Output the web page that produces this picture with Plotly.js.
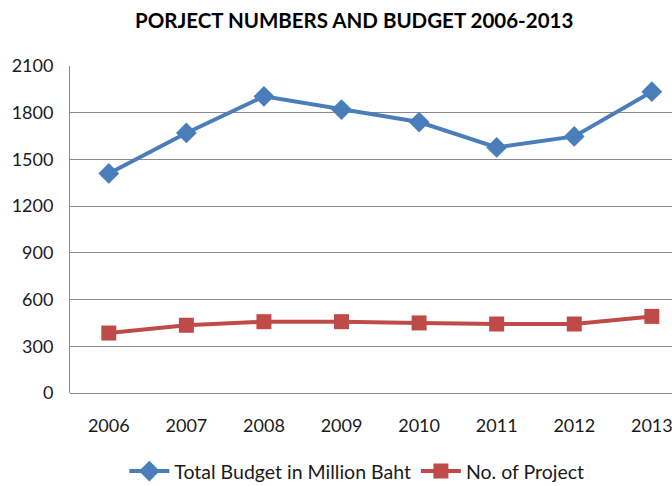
<!DOCTYPE html>
<html>
<head>
<meta charset="utf-8">
<script src="https://cdn.plot.ly/plotly-3.0.1.min.js"></script>
<style>html,body{margin:0;padding:0;background:#fff;}#chart{width:672px;height:486px;}</style>
</head>
<body>
<div id="chart"></div>
<script>
const years = ["2006","2007","2008","2009","2010","2011","2012","2013"];
const totalBudget = [1410, 1670, 1905, 1820, 1740, 1577, 1648, 1935];
const numProjects = [385, 435, 458, 458, 450, 443, 443, 492];
const yTicks = [0, 300, 600, 900, 1200, 1500, 1800, 2100];

const font = "Lato, 'Open Sans', sans-serif";

const traces = [
  {
    x: years, y: totalBudget, name: "Total Budget in Million Baht",
    type: "scatter", mode: "lines+markers",
    line: {color: "#4a7ebb", width: 4},
    marker: {symbol: "diamond", size: 16, color: "#4a7ebb"}
  },
  {
    x: years, y: numProjects, name: "No. of Project",
    type: "scatter", mode: "lines+markers",
    line: {color: "#be4b48", width: 4},
    marker: {symbol: "square", size: 15, color: "#be4b48"}
  }
];

const layout = {
  width: 672, height: 486,
  margin: {l: 70, r: 0, t: 66, b: 93},
  paper_bgcolor: "#fff", plot_bgcolor: "#fff",
  font: {family: font, size: 18, color: "#1a1a1a"},
  title: {
    text: "PORJECT NUMBERS AND BUDGET 2006-2013",
    font: {family: font, size: 20.5, color: "#000", weight: "bold"},
    x: 0.527, xanchor: "center", xref: "container",
    y: 0.958, yanchor: "middle", yref: "container"
  },
  xaxis: {
    type: "category", range: [-0.5, 7.26],
    showgrid: false, zeroline: false,
    showline: false, ticks: "",
    tickfont: {family: font, size: 18, color: "#1a1a1a"},
    ticklabelstandoff: 20
  },
  yaxis: {
    range: [0, 2100], tickvals: yTicks, ticktext: yTicks.map(String),
    showgrid: true, gridcolor: "#8a8a8a", gridwidth: 1,
    zeroline: true, zerolinecolor: "#8a8a8a", zerolinewidth: 1,
    showline: true, linecolor: "#8a8a8a", linewidth: 1,
    ticks: "", tickfont: {family: font, size: 18, color: "#1a1a1a"},
    ticklabelstandoff: 12
  },
  showlegend: true,
  legend: {
    orientation: "h", xref: "container", yref: "container",
    x: 0.531, xanchor: "center",
    y: 0.03, yanchor: "middle",
    font: {family: font, size: 19.5, color: "#1a1a1a"},
    itemwidth: 40, traceorder: "normal"
  }
};

Plotly.newPlot("chart", traces, layout, {displayModeBar: false, staticPlot: true});
</script>
</body>
</html>
